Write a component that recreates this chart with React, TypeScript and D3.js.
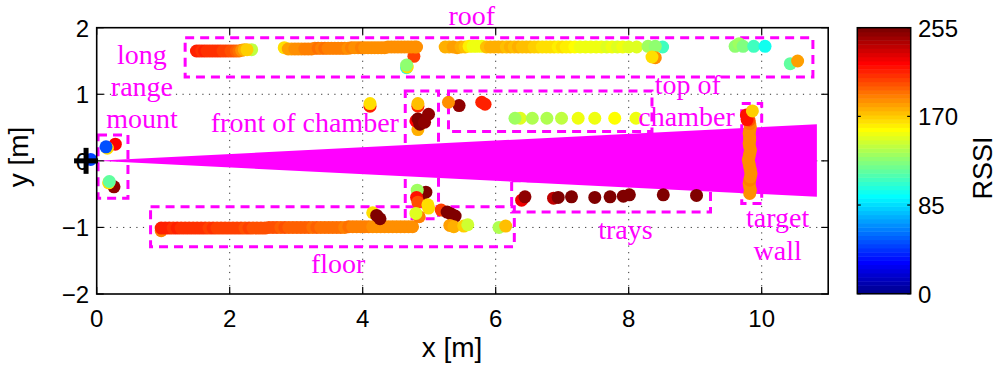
import React from 'react';
import * as d3 from 'd3';

// Each measurement: [x in m, y in m, RSSI]
type Pt = [number, number, number];

const xTicks = [0, 2, 4, 6, 8, 10];
const yTicks = [-2, -1, 0, 1, 2];
const rssiTicks = [0, 85, 170, 255];

// Reader antenna and its beam footprint
const readerPos: [number, number] = [-0.16, 0];
const beam: [number, number][] = [
  [0, 0],
  [10.83, 0.55],
  [10.83, -0.54],
];

// Tag areas: [x0, y0, x1, y1] in metres
const areaBoxes: [number, number, number, number][] = [
  [1.33, 1.26, 10.77, 1.85],
  [0.02, -0.56, 0.47, 0.39],
  [4.64, -0.87, 5.14, 1.05],
  [5.29, 0.44, 8.35, 1.05],
  [9.7, -0.64, 10.0, 0.86],
  [0.81, -1.29, 6.28, -0.69],
  [6.24, -0.77, 9.23, -0.3],
];

// Area names: [text, x, y(baseline)] in metres
const areaLabels: [string, number, number][] = [
  ['roof', 5.64, 2.04],
  ['long', 0.68, 1.46],
  ['range', 0.68, 0.97],
  ['mount', 0.68, 0.49],
  ['front of chamber', 3.13, 0.44],
  ['top of', 8.89, 1.01],
  ['chamber', 8.87, 0.53],
  ['trays', 7.95, -1.18],
  ['target', 10.24, -1.0],
  ['wall', 10.24, -1.49],
  ['floor', 3.63, -1.69],
];

const originPts: Pt[] = [[-0.09, 0.02, 45]];

const mountPts: Pt[] = [
  [0.28, 0.25, 220], [0.16, 0.19, 165], [0.14, 0.21, 48],
  [0.26, -0.39, 250], [0.18, -0.33, 165], [0.19, -0.31, 117],
];

const roofLeftPts: Pt[] = [
  [2.33, 1.67, 140],
  [1.5, 1.65, 212], [1.54, 1.65, 212], [1.58, 1.65, 211], [1.62, 1.65, 212], [1.66, 1.65, 210],
  [1.7, 1.65, 211], [1.74, 1.65, 209], [1.78, 1.65, 210], [1.82, 1.65, 208], [1.86, 1.65, 208],
  [1.9, 1.65, 206], [1.94, 1.65, 205], [1.98, 1.65, 204], [2.02, 1.65, 203], [2.06, 1.65, 200],
  [2.1, 1.65, 197], [2.14, 1.65, 192], [2.18, 1.66, 185], [2.22, 1.67, 176], [2.26, 1.67, 168],
];

const roofMidPts: Pt[] = [
  [4.77, 1.57, 205],
  [4.66, 1.4, 100], [4.67, 1.41, 165], [4.66, 1.44, 128],
  [2.82, 1.7, 166],
  [2.88, 1.68, 180], [2.93, 1.68, 182], [2.98, 1.68, 184], [3.03, 1.68, 186], [3.08, 1.68, 187],
  [3.13, 1.68, 189], [3.18, 1.68, 190], [3.23, 1.68, 191], [3.28, 1.69, 190], [3.33, 1.69, 192],
  [3.38, 1.69, 191], [3.43, 1.69, 192], [3.48, 1.69, 190], [3.53, 1.69, 191], [3.58, 1.69, 189],
  [3.63, 1.69, 190], [3.68, 1.69, 188], [3.73, 1.69, 189], [3.78, 1.69, 187], [3.83, 1.7, 188],
  [3.88, 1.7, 186], [3.93, 1.7, 187], [3.98, 1.7, 188], [4.03, 1.7, 186], [4.08, 1.7, 187],
  [4.13, 1.7, 185], [4.18, 1.7, 186], [4.23, 1.7, 187], [4.28, 1.7, 186], [4.33, 1.7, 187],
  [4.38, 1.71, 186], [4.43, 1.71, 187], [4.48, 1.71, 186], [4.53, 1.71, 185], [4.58, 1.71, 186],
  [4.63, 1.71, 187], [4.68, 1.71, 186], [4.73, 1.71, 187], [4.78, 1.71, 186], [4.81, 1.71, 187],
];

const roofRightPts: Pt[] = [
  [5.24, 1.71, 176], [5.3, 1.71, 178], [5.36, 1.71, 182], [5.42, 1.7, 180], [5.48, 1.71, 176],
  [5.54, 1.71, 174], [5.6, 1.72, 160], [5.66, 1.72, 153], [5.72, 1.72, 155], [5.79, 1.72, 152],
  [5.86, 1.71, 175], [5.92, 1.71, 176], [5.98, 1.71, 177], [6.04, 1.71, 176], [6.1, 1.71, 177],
  [6.16, 1.71, 175], [6.22, 1.71, 176], [6.28, 1.71, 175], [6.34, 1.71, 176], [6.4, 1.71, 174],
  [6.46, 1.71, 173], [6.52, 1.71, 172], [6.58, 1.71, 170], [6.64, 1.71, 168], [6.7, 1.71, 166],
  [6.76, 1.71, 165], [6.82, 1.71, 164], [6.88, 1.71, 165], [6.94, 1.71, 163], [7.0, 1.71, 164],
  [7.06, 1.71, 162], [7.12, 1.71, 160], [7.19, 1.71, 157], [7.27, 1.71, 155], [7.35, 1.71, 153],
  [7.43, 1.71, 154], [7.51, 1.71, 152], [7.59, 1.71, 153], [7.67, 1.71, 151], [7.75, 1.71, 152],
  [7.83, 1.71, 150], [7.91, 1.71, 152], [8.0, 1.71, 151], [8.12, 1.71, 150],
  [8.51, 1.71, 108], [8.29, 1.72, 132], [8.4, 1.72, 128],
  [8.4, 1.55, 186], [8.35, 1.56, 166],
  [9.6, 1.72, 128], [9.66, 1.76, 132], [9.72, 1.72, 126], [9.88, 1.72, 108], [10.05, 1.72, 96],
  [10.43, 1.46, 118], [10.54, 1.5, 182],
];

const frontUpperPts: Pt[] = [
  [4.11, 0.82, 215], [4.11, 0.86, 166],
  [4.83, 0.82, 215], [4.83, 0.86, 174],
  [4.83, 0.47, 176], [4.8, 0.6, 220], [4.83, 0.63, 252], [4.86, 0.55, 252], [4.93, 0.58, 250],
  [4.99, 0.7, 250],
];

const chamberTopPts: Pt[] = [
  [5.45, 0.83, 248], [5.29, 0.88, 186], [5.79, 0.88, 215], [5.84, 0.85, 212],
  [6.37, 0.64, 150], [6.29, 0.64, 133], [6.55, 0.64, 138], [6.77, 0.64, 138], [6.99, 0.64, 140],
  [7.24, 0.64, 152], [7.49, 0.64, 153], [7.79, 0.64, 158], [8.11, 0.64, 152],
];

const floorPts: Pt[] = [
  [0.97, -1.05, 190],
  [0.97, -1.01, 213], [1.03, -1.01, 212], [1.09, -1.01, 213], [1.15, -1.01, 211], [1.21, -1.01, 212],
  [1.27, -1.01, 210], [1.33, -1.01, 211], [1.39, -1.01, 210], [1.45, -1.01, 209], [1.51, -1.01, 210],
  [1.57, -1.01, 208], [1.63, -1.01, 209], [1.69, -1.01, 207], [1.75, -1.01, 208], [1.81, -1.01, 206],
  [1.87, -1.01, 207], [1.93, -1.01, 206], [1.99, -1.01, 205], [2.05, -1.01, 206], [2.11, -1.01, 204],
  [2.17, -1.01, 205], [2.23, -1.01, 203], [2.29, -1.01, 204], [2.35, -1.01, 203], [2.41, -1.01, 202],
  [2.47, -1.01, 203], [2.53, -1.01, 201], [2.59, -1.0, 202], [2.65, -1.0, 200], [2.71, -1.0, 201],
  [2.77, -1.0, 199], [2.83, -1.0, 200], [2.89, -1.0, 198], [2.95, -1.0, 199], [3.01, -1.0, 197],
  [3.07, -1.0, 198], [3.13, -1.0, 196], [3.19, -1.0, 197], [3.25, -1.0, 195], [3.31, -1.0, 196],
  [3.37, -1.0, 194], [3.43, -1.0, 195], [3.49, -1.0, 193], [3.55, -1.0, 194], [3.61, -1.0, 192],
  [3.67, -1.0, 193], [3.73, -1.0, 191], [3.79, -0.99, 192], [3.85, -0.99, 190], [3.91, -0.99, 191],
  [3.97, -0.99, 189], [4.03, -0.99, 190], [4.09, -0.99, 188], [4.15, -0.99, 187], [4.21, -0.99, 186],
  [4.27, -0.99, 187], [4.33, -0.99, 185], [4.39, -0.99, 186], [4.45, -0.99, 185], [4.51, -0.99, 184],
  [4.57, -0.99, 185], [4.63, -0.99, 184], [4.69, -0.99, 185], [4.75, -0.99, 184],
  [4.15, -0.78, 166], [4.21, -0.82, 252], [4.26, -0.87, 252],
  [5.18, -0.74, 205], [5.27, -0.77, 252], [5.33, -0.8, 252], [5.39, -0.83, 252],
  [5.31, -0.97, 180], [5.37, -0.99, 178], [5.52, -0.98, 168], [5.58, -0.96, 145],
  [6.05, -1.0, 138], [6.15, -0.98, 173],
];

const frontLowerPts: Pt[] = [
  [4.95, -0.47, 252], [4.9, -0.5, 252], [4.82, -0.44, 133], [4.81, -0.55, 216], [4.83, -0.62, 200],
  [4.98, -0.66, 166], [4.99, -0.71, 165], [4.85, -0.84, 190], [4.8, -0.79, 148],
];

const trayPts: Pt[] = [
  [6.39, -0.59, 225], [6.44, -0.54, 250], [6.87, -0.56, 237], [6.94, -0.55, 252], [7.14, -0.54, 252],
  [7.49, -0.55, 252], [7.72, -0.54, 252], [7.92, -0.53, 252], [8.01, -0.51, 252], [8.52, -0.51, 252],
  [9.02, -0.52, 252],
];

const wallPts: Pt[] = [
  [9.82, -0.49, 186], [9.83, -0.44, 185], [9.82, -0.39, 187], [9.81, -0.34, 186], [9.82, -0.29, 188],
  [9.83, -0.24, 186], [9.84, -0.19, 185], [9.83, -0.14, 187], [9.82, -0.09, 186], [9.81, -0.04, 185],
  [9.8, 0.01, 186], [9.81, 0.06, 187], [9.82, 0.11, 186], [9.83, 0.16, 185], [9.82, 0.21, 186],
  [9.81, 0.26, 187], [9.82, 0.31, 186], [9.82, 0.36, 185], [9.81, 0.41, 186], [9.82, 0.46, 187],
  [9.83, 0.51, 186], [9.82, 0.56, 190], [9.81, 0.61, 200],
  [9.78, 0.62, 216], [9.77, 0.69, 217], [9.86, 0.75, 168],
];

const allPts: Pt[] = [
  ...originPts, ...mountPts, ...roofLeftPts, ...roofMidPts, ...roofRightPts, ...frontUpperPts,
  ...chamberTopPts, ...floorPts, ...frontLowerPts, ...trayPts, ...wallPts,
];

// MATLAB-style jet colormap with 64 entries
function jetPalette(m = 64): string[] {
  const n = Math.ceil(m / 4);
  const u: number[] = [];
  for (let k = 1; k <= n; k++) u.push(k / n);
  for (let k = 0; k < n - 1; k++) u.push(1);
  for (let k = n; k >= 1; k--) u.push(k / n);
  const g0 = Math.ceil(n / 2) - (m % 4 === 1 ? 1 : 0);
  const rgb = Array.from({ length: m }, () => [0, 0, 0]);
  u.forEach((v, i) => {
    const gi = g0 + i + 1;
    const ri = gi + n;
    const bi = gi - n;
    if (ri >= 1 && ri <= m) rgb[ri - 1][0] = v;
    if (gi >= 1 && gi <= m) rgb[gi - 1][1] = v;
    if (bi >= 1 && bi <= m) rgb[bi - 1][2] = v;
  });
  return rgb.map((c) => d3.rgb(c[0] * 255, c[1] * 255, c[2] * 255).formatHex());
}

const W = 998;
const H = 369;
const plot = { left: 96.7, right: 828.2, top: 27.7, bottom: 294 };
const cbar = { left: 857.3, right: 910.7, top: 27.7, bottom: 293.7 };
const sans = "'Liberation Sans', Arial, Helvetica, sans-serif";
const serif = "'Liberation Serif', 'Times New Roman', serif";
const MAGENTA = '#ff00ff';

export default function App() {
  const x = d3.scaleLinear().domain([0, 11]).range([plot.left, plot.right]);
  const y = d3.scaleLinear().domain([-2, 2]).range([plot.bottom, plot.top]);
  const palette = jetPalette(64);
  const color = d3.scaleQuantize<string>().domain([0, 255]).range(palette);
  const cy = d3.scaleLinear().domain([0, 255]).range([cbar.bottom, cbar.top]);

  const beamPath = d3
    .line<[number, number]>()
    .x((d) => x(d[0]))
    .y((d) => y(d[1]))
    .curve(d3.curveLinearClosed)(beam) as string;

  const tickLen = 7;
  const [rx, ry] = [x(readerPos[0]), y(readerPos[1])];

  return (
    <svg
      width={W}
      height={H}
      style={{ position: 'absolute', left: 0, top: 0, background: '#fff' }}
    >
      {/* dotted grid */}
      <g stroke="#333" strokeWidth={1} strokeDasharray="1.2,5.4">
        {xTicks
          .filter((t) => t > 0)
          .map((t) => (
            <line key={'gx' + t} x1={x(t)} x2={x(t)} y1={plot.top} y2={plot.bottom} />
          ))}
        {yTicks
          .filter((t) => t > -2 && t < 2)
          .map((t) => (
            <line key={'gy' + t} x1={plot.left} x2={plot.right} y1={y(t)} y2={y(t)} />
          ))}
      </g>

      {/* tag areas */}
      <g fill="none" stroke={MAGENTA} strokeWidth={3} strokeDasharray="9,6">
        {areaBoxes.map((b, i) => (
          <rect
            key={'box' + i}
            x={x(b[0])}
            y={y(b[3])}
            width={x(b[2]) - x(b[0])}
            height={y(b[1]) - y(b[3])}
          />
        ))}
      </g>

      {/* reader beam */}
      <path d={beamPath} fill={MAGENTA} stroke="none" />

      {/* RSSI readings */}
      <g>
        {allPts.map((p, i) => (
          <circle key={'p' + i} cx={x(p[0])} cy={y(p[1])} r={6.5} fill={color(p[2])} />
        ))}
      </g>

      {/* area names */}
      <g fill={MAGENTA} fontFamily={serif} fontSize={28} textAnchor="middle">
        {areaLabels.map(([t, lx, ly]) => (
          <text key={t} x={x(lx)} y={y(ly)}>
            {t}
          </text>
        ))}
      </g>

      {/* axes box and ticks */}
      <rect
        x={plot.left}
        y={plot.top}
        width={plot.right - plot.left}
        height={plot.bottom - plot.top}
        fill="none"
        stroke="#000"
        strokeWidth={1.6}
      />
      <g stroke="#000" strokeWidth={1.2}>
        {xTicks.map((t) => (
          <g key={'tx' + t}>
            <line x1={x(t)} x2={x(t)} y1={plot.bottom} y2={plot.bottom - tickLen} />
            <line x1={x(t)} x2={x(t)} y1={plot.top} y2={plot.top + tickLen} />
          </g>
        ))}
        {yTicks.map((t) => (
          <g key={'ty' + t}>
            <line x1={plot.left} x2={plot.left + tickLen} y1={y(t)} y2={y(t)} />
            <line x1={plot.right} x2={plot.right - tickLen} y1={y(t)} y2={y(t)} />
          </g>
        ))}
      </g>
      <g fontFamily={sans} fontSize={24} fill="#000">
        {xTicks.map((t) => (
          <text key={'lx' + t} x={x(t)} y={327} textAnchor="middle">
            {t}
          </text>
        ))}
        {yTicks.map((t) => (
          <text key={'ly' + t} x={89} y={y(t) + 9} textAnchor="end">
            {t < 0 ? '\u2212' + Math.abs(t) : t}
          </text>
        ))}
      </g>
      <text
        x={452}
        y={357}
        textAnchor="middle"
        fontFamily={sans}
        fontSize={28}
        fill="#000"
      >
        x [m]
      </text>
      <text
        transform={`translate(28,157) rotate(-90)`}
        textAnchor="middle"
        fontFamily={sans}
        fontSize={28}
        fill="#000"
      >
        y [m]
      </text>

      {/* reader marker */}
      <g stroke="#000" strokeWidth={5} strokeLinecap="butt">
        <line x1={rx - 12} x2={rx + 12} y1={ry} y2={ry} />
        <line x1={rx} x2={rx} y1={ry - 13} y2={ry + 13} />
      </g>

      {/* colour bar */}
      <g>
        {palette.map((c, i) => {
          const v0 = (i * 255) / palette.length;
          const v1 = ((i + 1) * 255) / palette.length;
          return (
            <rect
              key={'cb' + i}
              x={cbar.left}
              y={cy(v1)}
              width={cbar.right - cbar.left}
              height={cy(v0) - cy(v1) + 0.5}
              fill={c}
            />
          );
        })}
        <rect
          x={cbar.left}
          y={cbar.top}
          width={cbar.right - cbar.left}
          height={cbar.bottom - cbar.top}
          fill="none"
          stroke="#000"
          strokeWidth={1.5}
        />
        <g stroke="#000" strokeWidth={1.2}>
          {rssiTicks.map((t) => (
            <g key={'ct' + t}>
              <line x1={cbar.left} x2={cbar.left + 3.5} y1={cy(t)} y2={cy(t)} />
              <line x1={cbar.right} x2={cbar.right - 3.5} y1={cy(t)} y2={cy(t)} />
            </g>
          ))}
        </g>
        <g fontFamily={sans} fontSize={24} fill="#000">
          {rssiTicks.map((t) => (
            <text key={'cl' + t} x={918} y={cy(t) + 9}>
              {t}
            </text>
          ))}
        </g>
        <text
          transform={`translate(992,168) rotate(-90)`}
          textAnchor="middle"
          fontFamily={sans}
          fontSize={27}
          fill="#000"
        >
          RSSI
        </text>
      </g>
    </svg>
  );
}
